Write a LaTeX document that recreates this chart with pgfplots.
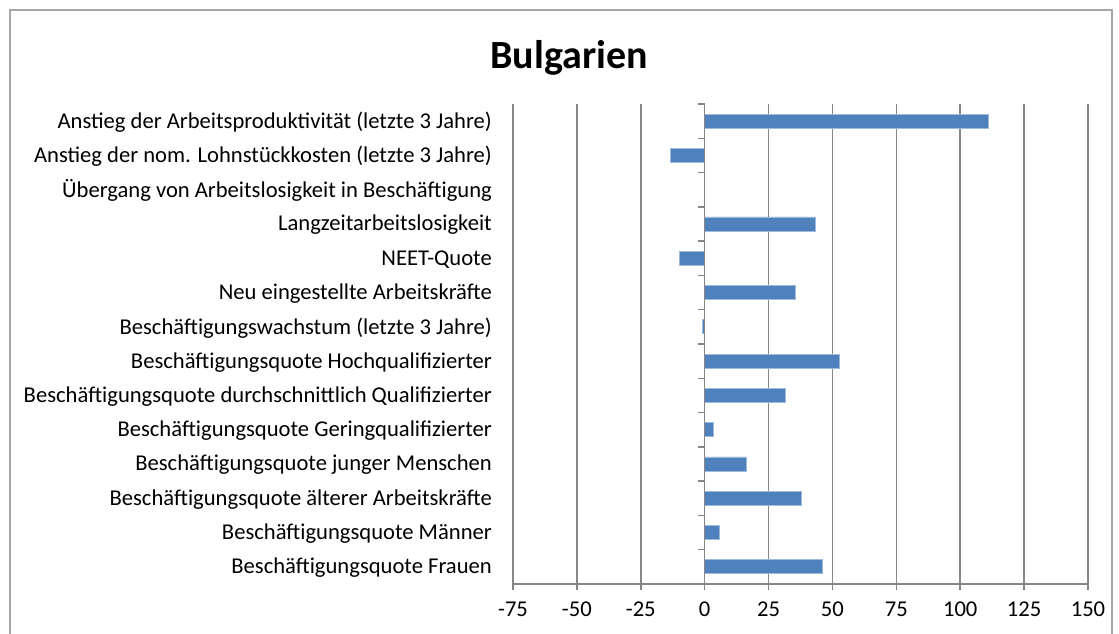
\documentclass[border=0pt]{standalone}
\usepackage{fontspec}
\setmainfont{Carlito}
\usepackage{pgfplots}
\pgfplotsset{compat=1.18}
\definecolor{barblue}{HTML}{4F81BD}
\definecolor{gridgray}{HTML}{868686}
\begin{document}
\begin{tikzpicture}[x=1pt,y=1pt]
\useasboundingbox (0,0) rectangle (1119,634);
\draw[color=gray!70, line width=1.2pt] (10,-20) rectangle (1112,624);
\node[font=\fontsize{40}{48}\selectfont\bfseries] at (569,576) {Bulgarien};
\begin{axis}[
  at={(513pt,50pt)}, anchor=south west,
  scale only axis, width=575pt, height=480pt,
  xmin=-75, xmax=150, ymin=-0.5, ymax=13.5,
  xtick={-75,-50,...,150},
  ytick={0,...,13},
  yticklabels={Beschäftigungsquote Frauen,Beschäftigungsquote Männer,Beschäftigungsquote älterer Arbeitskräfte,Beschäftigungsquote junger Menschen,Beschäftigungsquote Geringqualifizierter,Beschäftigungsquote durchschnittlich Qualifizierter,Beschäftigungsquote Hochqualifizierter,Beschäftigungswachstum (letzte 3 Jahre),Neu eingestellte Arbeitskräfte,NEET-Quote,Langzeitarbeitslosigkeit,Übergang von Arbeitslosigkeit in Beschäftigung,Anstieg der nom. Lohnstückkosten (letzte 3 Jahre),Anstieg der Arbeitsproduktivität (letzte 3 Jahre)},
  axis x line*=bottom,
  y axis line style={draw=none},
  x axis line style={draw=gridgray, line width=1.5pt},
  xtick pos=bottom, xtick align=outside,
  major x tick style={draw=gridgray, line width=1.5pt},
  major tick length=6pt,
  ytick pos=left,
  major y tick style={draw=none},
  xmajorgrids,
  grid style={draw=gridgray, line width=1.5pt},
  tick label style={font=\fontsize{22.6}{26}\selectfont},
  /pgf/number format/assume math mode=true,
  yticklabel style={inner sep=0pt, xshift=-21pt, yshift=-1pt},
  xticklabel style={inner sep=0pt, yshift=-12pt},
  clip=false,
]
\addplot[xbar, fill=barblue, draw=barblue!55!white, line width=0.8pt, bar width=0.41] coordinates {
(46,0) (5.7,1) (37.8,2) (16.3,3) (3.4,4) (31.6,5) (52.6,6) (-1,7) (35.5,8) (-10,9) (43.4,10) (-13.3,12) (111,13)};
\draw[gridgray, line width=1.5pt] (axis cs:0,-0.5) -- (axis cs:0,13.5);
\pgfplotsinvokeforeach{-0.5,0.5,...,13.5}{
  \draw[gridgray, line width=1.5pt] (axis cs:0,#1) -- ++(-7pt,0pt);
}
\end{axis}
\end{tikzpicture}
\end{document}
